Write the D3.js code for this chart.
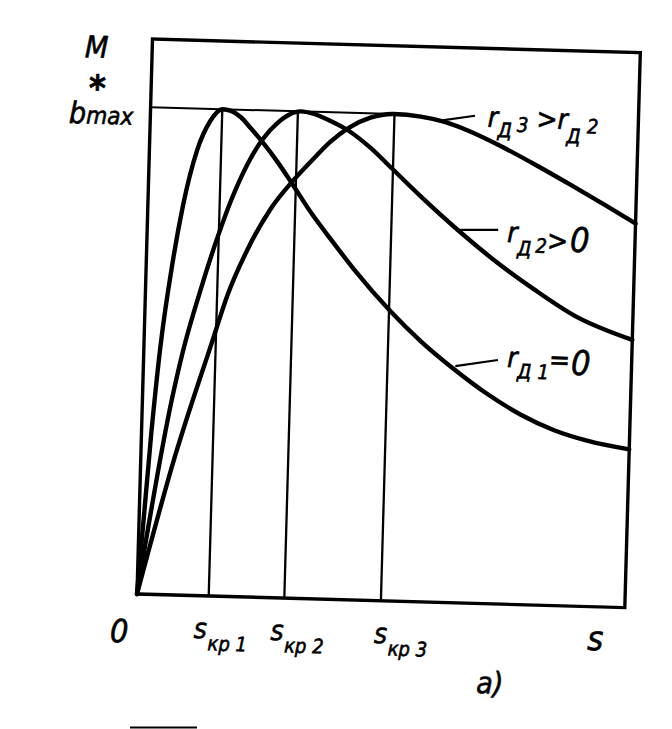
<!DOCTYPE html>
<html><head><meta charset="utf-8">
<script src="https://cdn.jsdelivr.net/npm/d3@7"></script>
<style>html,body{margin:0;padding:0;background:#fff;} svg{display:block;}</style>
</head><body>
<svg id="chart" width="672" height="729"></svg>
<script>
// ---- data (slip s, relative torque M/Mmax) ----
const curve1S = [0, 0.02, 0.033, 0.055, 0.072, 0.098, 0.123, 0.147, 0.165, 0.185, 0.206, 0.231, 0.263, 0.295, 0.333, 0.376, 0.425, 0.503, 0.567, 0.636, 0.707, 0.776, 0.845, 0.915, 1.0];
const curve1M = [0, 0.33, 0.50, 0.69, 0.80, 0.915, 0.975, 1.0, 0.997, 0.985, 0.963, 0.935, 0.895, 0.85, 0.795, 0.74, 0.68, 0.595, 0.535, 0.48, 0.43, 0.39, 0.36, 0.34, 0.325];
const curve2S = [0, 0.06, 0.08, 0.112, 0.144, 0.169, 0.201, 0.231, 0.261, 0.285, 0.308, 0.333, 0.365, 0.407, 0.453, 0.499, 0.559, 0.643, 0.72, 0.796, 0.879, 1.0];
const curve2M = [0, 0.40, 0.50, 0.625, 0.735, 0.81, 0.887, 0.94, 0.975, 0.993, 1.0, 0.996, 0.984, 0.963, 0.929, 0.887, 0.832, 0.76, 0.70, 0.648, 0.597, 0.55];
const curve3S = [0, 0.07, 0.14, 0.168, 0.206, 0.251, 0.295, 0.331, 0.37, 0.407, 0.451, 0.498, 0.554, 0.601, 0.657, 0.726, 0.797, 0.866, 0.935, 1.0];
const curve3M = [0, 0.285, 0.524, 0.618, 0.712, 0.797, 0.856, 0.897, 0.939, 0.969, 0.991, 1.0, 0.996, 0.987, 0.968, 0.937, 0.901, 0.864, 0.826, 0.789];
const criticalSlip = [0.147, 0.302, 0.5];
const criticalIndex = ["1", "2", "3"];
const bMax = 1;
const mTop = 1.14;

// ---- layout ----
const svg = d3.select("#chart");
const x = d3.scaleLinear().domain([0, 1]).range([0, 488]);
const y = d3.scaleLinear().domain([0, 1]).range([0, -487]);
const g = svg.append("g").attr("transform", "translate(137,594) rotate(1.6)");
const FONT = '"Liberation Sans Narrow","DejaVu Sans Condensed","Liberation Sans",sans-serif';

// frame
g.append("rect")
  .attr("x", x(0)).attr("y", y(mTop))
  .attr("width", x(1) - x(0)).attr("height", y(0) - y(mTop))
  .attr("fill", "none").attr("stroke", "#000").attr("stroke-width", 3.4);

// b_max line up to third peak
g.append("line")
  .attr("x1", x(0)).attr("x2", x(criticalSlip[2]))
  .attr("y1", y(bMax)).attr("y2", y(bMax))
  .attr("stroke", "#000").attr("stroke-width", 2);

// critical slip verticals
g.selectAll("line.kp").data(criticalSlip).enter().append("line")
  .attr("class", "kp")
  .attr("x1", d => x(d)).attr("x2", d => x(d))
  .attr("y1", y(0)).attr("y2", y(bMax))
  .attr("stroke", "#000").attr("stroke-width", 2.3);

// curves
const line = d3.line().x(d => x(d[0])).y(d => y(d[1])).curve(d3.curveMonotoneX);
[[curve1S, curve1M], [curve2S, curve2M], [curve3S, curve3M]].forEach(([S, M]) => {
  g.append("path")
    .attr("d", line(S.map((s, i) => [s, M[i]])))
    .attr("fill", "none").attr("stroke", "#000").attr("stroke-width", 4.4)
    .attr("stroke-linejoin", "round").attr("stroke-linecap", "round");
});

// leader lines (curve point -> label)
const leaders = [
  [[0.594, 0.989], [0.665, 1.001]],
  [[0.641, 0.766], [0.719, 0.768]],
  [[0.639, 0.486], [0.726, 0.501]]
];
leaders.forEach(([a, b]) => {
  g.append("line")
    .attr("x1", x(a[0])).attr("y1", y(a[1]))
    .attr("x2", x(b[0])).attr("y2", y(b[1]))
    .attr("stroke", "#000").attr("stroke-width", 2.2);
});

function txt(px, py, size, anchor) {
  return g.append("text").attr("x", px).attr("y", py)
    .attr("font-family", FONT).attr("font-style", "italic")
    .attr("font-size", size).attr("fill", "#000")
    .attr("stroke", "#000").attr("stroke-width", 0.6)
    .attr("text-anchor", anchor || "start");
}

// curve labels
let t = txt(x(0.691), y(0.979), 28);
t.append("tspan").text("r");
t.append("tspan").attr("font-size", 20).attr("dy", 10).attr("dx", 0).text("Д");
t.append("tspan").attr("font-size", 20).attr("dy", -6).attr("dx", 5).text("3");
t.append("tspan").attr("font-size", 28).attr("dy", -4).attr("dx", 8).text(">");
t.append("tspan").attr("font-size", 28).attr("dx", 0).text("r");
t.append("tspan").attr("font-size", 20).attr("dy", 14).attr("dx", -1).text("Д");
t.append("tspan").attr("font-size", 20).attr("dy", -10).attr("dx", 6).text("2");

t = txt(x(0.738), y(0.744), 28);
t.append("tspan").text("r");
t.append("tspan").attr("font-size", 20).attr("dy", 13).attr("dx", 0).text("Д");
t.append("tspan").attr("font-size", 20).attr("dy", -3).attr("dx", 4).text("2");
t.append("tspan").attr("font-size", 28).attr("dy", -3).attr("dx", 0).text(">");
t.append("tspan").attr("font-size", 34).attr("dy", 1).attr("dx", 2).text("0");

t = txt(x(0.745), y(0.487), 28);
t.append("tspan").text("r");
t.append("tspan").attr("font-size", 20).attr("dy", 11).attr("dx", 0).text("Д");
t.append("tspan").attr("font-size", 20).attr("dy", 0).attr("dx", 6).text("1");
t.append("tspan").attr("font-size", 28).attr("dy", -10).attr("dx", 0).text("=");
t.append("tspan").attr("font-size", 34).attr("dy", 5).attr("dx", 1).text("0");

// axis labels
txt(x(-0.053), y(-0.100), 32).text("0");
const kpOffset = [-14, -13, -6];
criticalSlip.forEach((s, i) => {
  const tt = txt(x(s) + kpOffset[i], y(-0.087), 28);
  tt.append("tspan").text("s");
  tt.append("tspan").attr("font-size", 20).attr("dy", 12).attr("dx", 1).text("кр " + criticalIndex[i]);
});
txt(x(0.925), y(-0.089), 34).text("s");
txt(x(0.70), y(-0.184), 30).text("a)");

// vertical axis labels
txt(x(-0.090), y(1.099), 30, "end").text("M");
txt(x(-0.110), y(1.01), 36, "middle").attr("font-style", "normal").attr("font-weight", "bold").text("*");
const bm = txt(x(-0.035), y(0.963), 30, "end");
bm.append("tspan").text("b");
bm.append("tspan").attr("font-size", 24).text("max");

// small stray rule at bottom
svg.append("line").attr("x1", 130).attr("x2", 197).attr("y1", 727.5).attr("y2", 727.5)
  .attr("stroke", "#000").attr("stroke-width", 2);
</script>
</body></html>
